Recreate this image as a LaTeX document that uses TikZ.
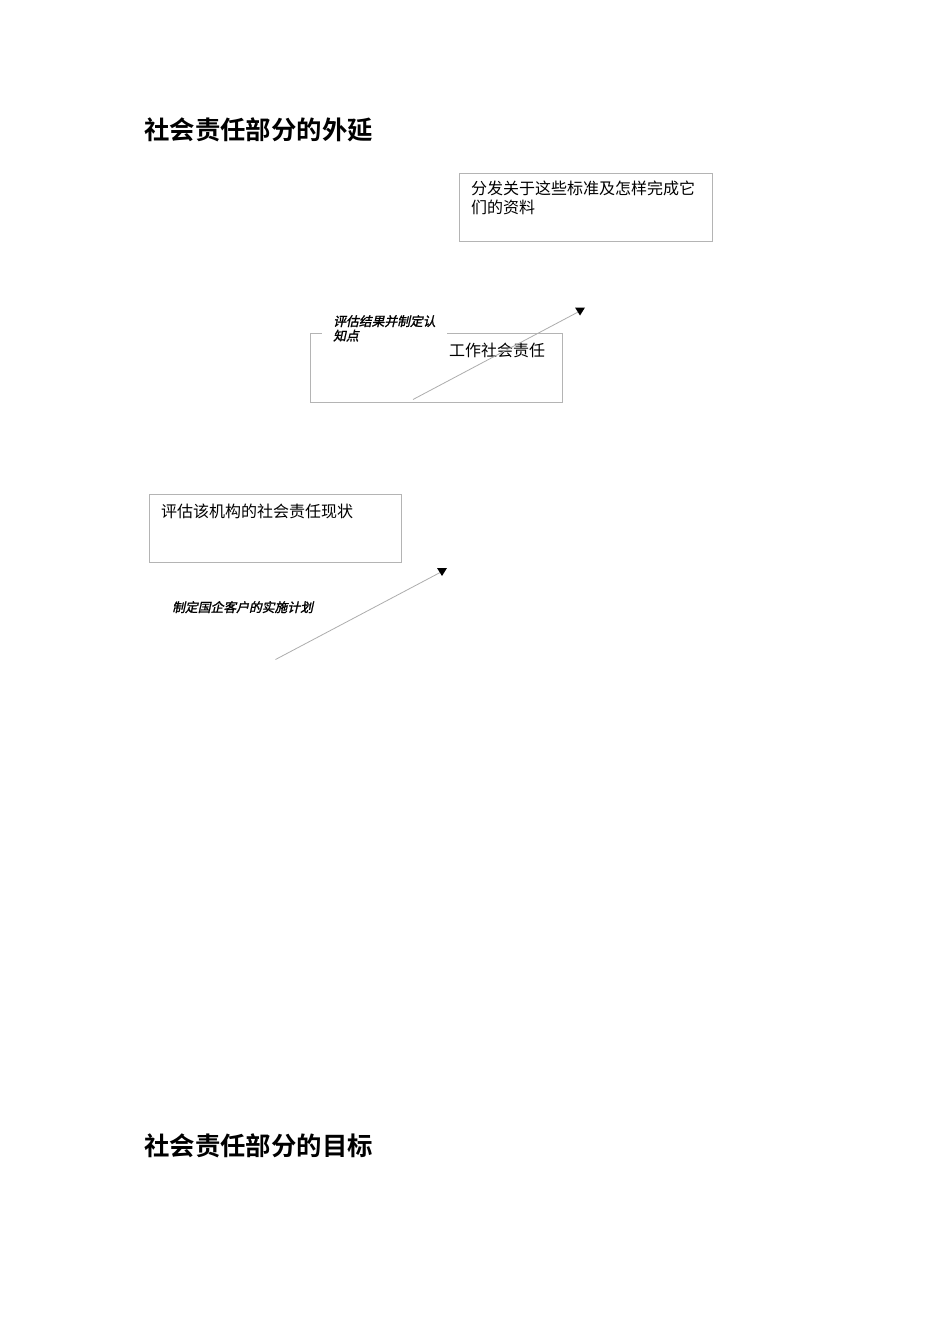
\documentclass[tikz,border=0pt]{standalone}
\usepackage{fontspec}
\newfontfamily\cjk{Noto Sans CJK SC}
\newfontfamily\cjkbold{Noto Sans CJK SC Bold}
\newfontfamily\cjkit[FakeSlant=0.22,FakeBold=1.5]{Noto Sans CJK SC}
\definecolor{boxgray}{HTML}{B4B4B4}
\definecolor{linegray}{HTML}{ADADAD}
\begin{document}
\begin{tikzpicture}[x=1pt,y=-1pt,
  titletext/.style={anchor=north west,inner sep=0pt,font=\cjkbold\fontsize{25.4}{28}\selectfont},
  boxtext/.style={anchor=north west,inner sep=0pt,align=left,font=\cjk\fontsize{16}{19}\selectfont},
  labeltext/.style={anchor=north west,inner sep=0pt,align=left,font=\cjkit\fontsize{12.8}{14.5}\selectfont},
  frame/.style={draw=boxgray,line width=0.9pt},
  conn/.style={draw=linegray,line width=0.8pt},
  tip/.style={fill=black}]
\useasboundingbox (0,0) rectangle (950,1344);
\fill[white] (0,0) rectangle (950,1344);

\node[titletext] (t1) at (144,118) {社会责任部分的外延};
\node[titletext] (t2) at (144,1133) {社会责任部分的目标};

% box 1
\draw[frame] (459,173) rectangle (712,241);
\node[boxtext] (b1) at (471,181) {分发关于这些标准及怎样完成它\\们的资料};

% box 2
\draw[frame] (310,333) rectangle (562,402);
\node[boxtext] (b2) at (449,342.5) {工作社会责任};
\node[labeltext,fill=white,inner xsep=11pt,inner ysep=2pt,anchor=north west] (l1) at (322,313) {评估结果并制定认\\知点};

% box 3
\draw[frame] (149,494) rectangle (401,562);
\node[boxtext] (b3) at (161,503.5) {评估该机构的社会责任现状};

\node[labeltext] (l2) at (172,601) {制定国企客户的实施计划};

% connectors
\coordinate (s1) at (413,399.5);
\coordinate (e1) at (580,311);
\draw[conn] (s1) -- (e1);
\fill[tip] ([shift={(-5,-3.5)}]e1) -- ([shift={(5,-3.5)}]e1) -- ([shift={(0,4.5)}]e1) -- cycle;

\coordinate (s2) at (275.5,659.5);
\coordinate (e2) at (442,571.5);
\draw[conn] (s2) -- (e2);
\fill[tip] ([shift={(-5,-3.5)}]e2) -- ([shift={(5,-3.5)}]e2) -- ([shift={(0,4.5)}]e2) -- cycle;
\end{tikzpicture}
\end{document}
